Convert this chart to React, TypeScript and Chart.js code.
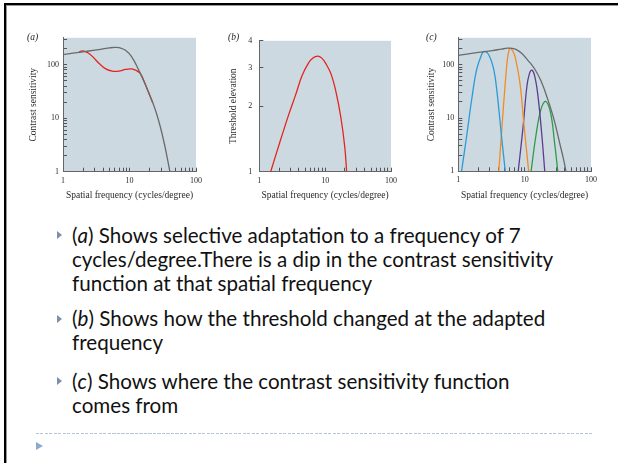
import React, { useEffect, useRef } from "react";
import { Chart, registerables } from "chart.js";

Chart.register(...registerables);

// ---------- tick values / labels ----------
const X_TICKS = [1, 2, 3, 4, 5, 6, 7, 8, 9, 10, 20, 30, 40, 50, 60, 70, 80, 90, 100];
const X_LABELS = [1, 10, 100];
const CS_TICKS = [1, 2, 3, 4, 5, 6, 7, 8, 9, 10, 20, 30, 40, 50, 60, 70, 80, 90, 100, 200, 300];
const CS_LABELS = [1, 10, 100];
const TE_TICKS = [1, 2, 3, 4];
const TE_LABELS = [1, 2, 3, 4];

// ---------- panel (a): contrast sensitivity before / after adaptation ----------
const A_GRAY_X = [1, 2, 3, 4, 5, 6, 7, 8.7, 10.8, 13.6, 17, 22.4, 25.2, 29, 33.5, 37, 40.5];
const A_GRAY_Y = [155, 175, 188, 198, 207, 212, 209, 187, 141, 82, 45, 19.5, 12.8, 7.0, 3.3, 1.8, 1];
const A_RED_X = [1.75, 2, 2.4, 2.8, 3.5, 4.4, 5.5, 6.9, 8.7, 10.8, 12.4, 14.5, 17, 20.2, 22.4];
const A_RED_Y = [176, 182, 166, 141, 106, 84, 76, 76, 82, 84, 79, 69, 45, 26.5, 19.5];

// ---------- panel (b): threshold elevation ----------
const B_RED_X = [1.49, 1.8, 2.26, 2.83, 3.55, 4.45, 5.58, 6.6, 7.7, 8.9, 10.2, 12.3, 14.6, 17.3, 19.8, 21.2];
const B_RED_Y = [1, 1.205, 1.5, 1.85, 2.25, 2.76, 3.16, 3.34, 3.4, 3.33, 3.15, 2.81, 2.33, 1.78, 1.31, 1];

// ---------- panel (c): channels ----------
const C_GRAY_X = [1, 2, 3.25, 4.5, 5.5, 6.5, 7.5, 9, 11.2, 14.1, 17.6, 22, 27.6, 34.4, 38.5, 42];
const C_GRAY_Y = [150, 170, 184, 197, 204, 203, 192, 164, 121, 84, 50, 23.6, 9.5, 3.05, 1.7, 1];
const C_BLUE_X = [1.12, 1.34, 1.59, 1.88, 2.22, 2.46, 2.91, 3.44, 3.85, 4.47, 5.1];
const C_BLUE_Y = [1, 4.7, 22, 79, 149, 178, 149, 79, 29, 4.7, 1];
const C_ORANGE_X = [4.08, 4.56, 5.1, 5.5, 5.8, 6.1, 6.5, 7.2, 8.5, 9.8, 11.5];
const C_ORANGE_Y = [1, 7.1, 45, 129, 185, 203, 188, 139, 45, 7.1, 1];
const C_PURPLE_X = [8.0, 9.5, 10.8, 11.8, 12.8, 14.0, 15.7, 18, 20.1];
const C_PURPLE_Y = [1, 7.1, 39, 68, 79, 65, 29, 5.4, 1];
const C_GREEN_X = [12.5, 14.8, 17.6, 20.8, 24.6, 28.2, 31.6];
const C_GREEN_Y = [1, 4.7, 14.5, 20.6, 12.5, 3.5, 1];

const GRAY = "#6a6a6a";
const RED = "#e5231f";
const BLUE = "#2a9bd6";
const ORANGE = "#f58a22";
const PURPLE = "#5b3d8f";
const GREEN = "#2f9a4a";
const PLOT_BG = "#cdd9e0";
const SERIF = '"Liberation Serif", "Times New Roman", serif';
const AXIS_TEXT = "#2a2a2a";

type Series = { xs: number[]; ys: number[]; color: string };

const pts = (xs: number[], ys: number[]) => xs.map((x, i) => ({ x, y: ys[i] }));

const bgPlugin = {
  id: "plotBg",
  beforeDraw(chart: any) {
    const { ctx, chartArea } = chart;
    if (!chartArea) return;
    ctx.save();
    ctx.fillStyle = PLOT_BG;
    ctx.fillRect(chartArea.left, chartArea.top, chartArea.right - chartArea.left, chartArea.bottom - chartArea.top);
    ctx.restore();
  },
};

type PanelProps = {
  left: number;
  top: number;
  width: number;
  height: number;
  plotLeft: number;
  plotTop: number;
  plotRight: number;
  plotBottom: number;
  yMax: number;
  yMin: number;
  yTicks: number[];
  yLabels: number[];
  yTitle: string;
  yTitleX: number;
  yLabelPad: number;
  series: Series[];
};

function Panel(p: PanelProps) {
  const ref = useRef<HTMLCanvasElement>(null);
  useEffect(() => {
    const yW = p.plotLeft - p.left;
    const xH = p.top + p.height - p.plotBottom;
    const tickFont = { family: SERIF, size: 8 };
    const titleFont = { family: SERIF, size: 9.5 };
    const grid = {
      display: true,
      drawOnChartArea: false,
      drawTicks: true,
      tickLength: -4,
      tickColor: "#555",
      tickWidth: 1,
    };
    const chart = new Chart(ref.current as HTMLCanvasElement, {
      type: "line",
      data: {
        datasets: p.series.map((s) => ({
          data: pts(s.xs, s.ys),
          borderColor: s.color,
          borderWidth: 1.3,
          pointRadius: 0,
          fill: false,
          tension: 0.4,
        })),
      },
      plugins: [bgPlugin],
      options: {
        responsive: false,
        maintainAspectRatio: false,
        animation: false,
        events: [],
        layout: { padding: { top: p.plotTop - p.top, right: p.left + p.width - p.plotRight, bottom: 0, left: 0 } },
        plugins: { legend: { display: false }, tooltip: { enabled: false } },
        scales: {
          x: {
            type: "logarithmic",
            min: 1,
            max: 100,
            afterBuildTicks: (s: any) => {
              s.ticks = X_TICKS.map((v) => ({ value: v }));
            },
            afterFit: (s: any) => {
              s.height = xH;
            },
            ticks: {
              autoSkip: false,
              maxRotation: 0,
              padding: 8,
              font: tickFont,
              color: AXIS_TEXT,
              callback: (v: any) => (X_LABELS.includes(Number(v)) ? String(v) : ""),
            },
            grid,
            border: { display: true, color: "#666", width: 1 },
            title: {
              display: true,
              text: "Spatial frequency (cycles/degree)",
              font: titleFont,
              color: AXIS_TEXT,
              padding: { top: 0, bottom: 4.3 },
            },
          },
          y: {
            type: "logarithmic",
            min: p.yMin,
            max: p.yMax,
            afterBuildTicks: (s: any) => {
              s.ticks = p.yTicks.map((v) => ({ value: v }));
            },
            afterFit: (s: any) => {
              s.width = yW;
            },
            ticks: {
              autoSkip: false,
              padding: p.yLabelPad,
              font: tickFont,
              color: AXIS_TEXT,
              callback: (v: any) => (p.yLabels.includes(Number(v)) ? String(v) : ""),
            },
            grid,
            border: { display: true, color: "#666", width: 1 },
            title: {
              display: true,
              text: p.yTitle,
              font: titleFont,
              color: AXIS_TEXT,
              padding: { top: p.yTitleX - p.left - 5.7, bottom: 0 },
            },
          },
        },
      },
    } as any);
    return () => chart.destroy();
  }, []);
  return (
    <canvas
      ref={ref}
      width={p.width}
      height={p.height}
      style={{ position: "absolute", left: p.left, top: p.top, width: p.width, height: p.height }}
    />
  );
}

const panelLabel = (text: string, left: number) => (
  <div
    style={{
      position: "absolute",
      left,
      top: 31.5,
      fontFamily: SERIF,
      fontStyle: "italic",
      fontSize: 9.5,
      lineHeight: "11px",
      color: "#222",
    }}
  >
    {text}
  </div>
);

const Bullet = ({ top }: { top: number }) => (
  <div
    style={{
      position: "absolute",
      left: 57,
      top,
      width: 0,
      height: 0,
      borderTop: "4px solid transparent",
      borderBottom: "4px solid transparent",
      borderLeft: "5.5px solid #7d8fa8",
    }}
  />
);

const textStyle: React.CSSProperties = {
  position: "absolute",
  left: 72,
  fontFamily: "Lato, 'Open Sans', sans-serif",
  fontSize: 20.6,
  lineHeight: "24px",
  color: "#111",
  whiteSpace: "nowrap",
};

export default function App() {
  return (
    <div style={{ position: "absolute", left: 0, top: 0, width: 618, height: 463, background: "#fff", overflow: "hidden" }}>
      {/* slide frame */}
      <div style={{ position: "absolute", left: 4, top: 3, right: 0, height: 2, background: "#000" }} />
      <div style={{ position: "absolute", left: 6, top: 5, right: 0, height: 1, background: "#999" }} />
      <div style={{ position: "absolute", left: 4, top: 3, width: 2, bottom: 0, background: "#000" }} />
      <div style={{ position: "absolute", left: 6, top: 5, width: 1, bottom: 0, background: "#999" }} />

      <Panel
        left={20}
        top={25}
        width={190}
        height={180}
        plotLeft={63}
        plotTop={35.5}
        plotRight={199}
        plotBottom={171.7}
        yMin={1}
        yMax={320}
        yTicks={CS_TICKS}
        yLabels={CS_LABELS}
        yTitle="Contrast sensitivity"
        yTitleX={33}
        yLabelPad={8}
        series={[
          { xs: A_GRAY_X, ys: A_GRAY_Y, color: GRAY },
          { xs: A_RED_X, ys: A_RED_Y, color: RED },
        ]}
      />
      <Panel
        left={215}
        top={25}
        width={190}
        height={180}
        plotLeft={259.3}
        plotTop={35}
        plotRight={395}
        plotBottom={171.7}
        yMin={1}
        yMax={4}
        yTicks={TE_TICKS}
        yLabels={TE_LABELS}
        yTitle="Threshold elevation"
        yTitleX={233.3}
        yLabelPad={11}
        series={[{ xs: B_RED_X, ys: B_RED_Y, color: RED }]}
      />
      <Panel
        left={415}
        top={25}
        width={190}
        height={180}
        plotLeft={458.3}
        plotTop={35}
        plotRight={595}
        plotBottom={171.3}
        yMin={1}
        yMax={320}
        yTicks={CS_TICKS}
        yLabels={CS_LABELS}
        yTitle="Contrast sensitivity"
        yTitleX={431.7}
        yLabelPad={8}
        series={[
          { xs: C_GRAY_X, ys: C_GRAY_Y, color: GRAY },
          { xs: C_BLUE_X, ys: C_BLUE_Y, color: BLUE },
          { xs: C_ORANGE_X, ys: C_ORANGE_Y, color: ORANGE },
          { xs: C_PURPLE_X, ys: C_PURPLE_Y, color: PURPLE },
          { xs: C_GREEN_X, ys: C_GREEN_Y, color: GREEN },
        ]}
      />
      {panelLabel("(a)", 27)}
      {panelLabel("(b)", 228)}
      {panelLabel("(c)", 426)}

      <Bullet top={231} />
      <div style={{ ...textStyle, top: 222.5 }}>
        (<i>a</i>) Shows selective adaptation to a frequency of 7
        <br />
        cycles/degree.There is a dip in the contrast sensitivity
        <br />
        function at that spatial frequency
      </div>
      <Bullet top={314.5} />
      <div style={{ ...textStyle, top: 306 }}>
        (<i>b</i>) Shows how the threshold changed at the adapted
        <br />
        frequency
      </div>
      <Bullet top={377} />
      <div style={{ ...textStyle, top: 368.5 }}>
        (<i>c</i>) Shows where the contrast sensitivity function
        <br />
        comes from
      </div>

      <div
        style={{
          position: "absolute",
          left: 36,
          top: 433,
          width: 558,
          height: 1,
          background: "repeating-linear-gradient(to right, #b5c5d5 0 3px, transparent 3px 4.5px)",
        }}
      />
      <div
        style={{
          position: "absolute",
          left: 36,
          top: 441.5,
          width: 0,
          height: 0,
          borderTop: "4.5px solid transparent",
          borderBottom: "4.5px solid transparent",
          borderLeft: "7.5px solid #8eaacb",
        }}
      />
    </div>
  );
}
